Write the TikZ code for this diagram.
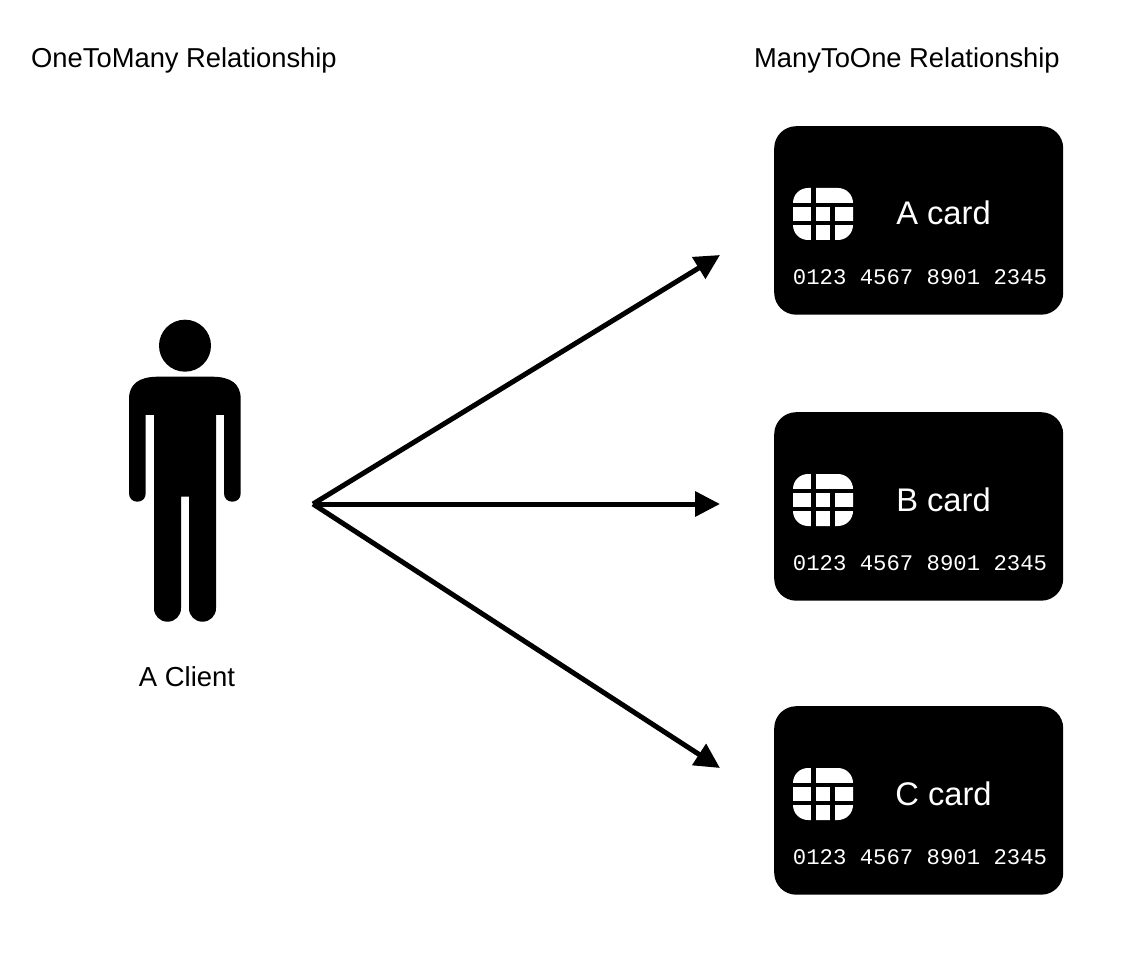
\documentclass[tikz,border=0pt]{standalone}
\usepackage{fontspec}
\setmainfont{Liberation Sans}
\newfontfamily\cardmono{Liberation Mono}
\usetikzlibrary{arrows.meta}
\tikzset{
  titletext/.style={inner sep=0pt,anchor=base west,font=\fontsize{27.35}{32}\selectfont},
  clienttext/.style={inner sep=0pt,anchor=base,font=\fontsize{27.5}{32}\selectfont},
  cardbox/.style={fill=black,draw=none,rounded corners=22pt,minimum width=289pt,minimum height=188.5pt,inner sep=0pt,anchor=north west},
  cardlabel/.style={inner sep=0pt,anchor=base,text=white,font=\fontsize{32.7}{38}\selectfont},
  cardnumber/.style={inner sep=0pt,anchor=base,text=white,font=\cardmono\fontsize{22.3}{26}\selectfont},
  relarrow/.style={line width=5pt,-{Triangle[length=25pt,width=24.5pt]}},
}
\newcommand{\creditcard}[3]{%
  \begin{scope}[shift={(774,#1)}]
    \node[cardbox] (card#2) at (0,0) {};
    \fill[white,rounded corners=15pt] (19,62) rectangle (79,114);
    \fill[black] (37,60) rectangle (41.5,116);
    \fill[black] (17,77) rectangle (81,81.3);
    \fill[black] (17,94.7) rectangle (81,98.7);
    \fill[black] (56,79) rectangle (61,116);
    \node[cardlabel] (label#2) at (169.5,99) {#3};
    \node[cardnumber] (number#2) at (146,158.7) {0123 4567 8901 2345};
  \end{scope}}
\begin{document}
\begin{tikzpicture}[x=1pt,y=-1pt]
\useasboundingbox (0,0) rectangle (1128,968);
\node[titletext] (titleleft) at (31,67.5) {OneToMany Relationship};
\node[titletext] (titleright) at (754,67.5) {ManyToOne Relationship};
\creditcard{126}{a}{A card}
\creditcard{412}{b}{B card}
\creditcard{706}{c}{C card}
% person
\fill[black] (185,345.7) circle[radius=26];
\fill[black] (154,415) -- (145.7,415) -- (145.7,493.4)
  .. controls (145.7,498.5) and (142,501.7) .. (137.35,501.7)
  .. controls (132.7,501.7) and (129,498.5) .. (129,493.4)
  -- (129,399) .. controls (129,384) and (139,376.7) .. (158,376.7)
  -- (212,376.7) .. controls (231,376.7) and (240.7,384) .. (240.7,399)
  -- (240.7,493.4)
  .. controls (240.7,498.5) and (237,501.7) .. (232.35,501.7)
  .. controls (227.7,501.7) and (224,498.5) .. (224,493.4)
  -- (224,415) -- (216,415) -- (216,608.2)
  .. controls (216,616) and (210,621.7) .. (202.5,621.7)
  .. controls (195,621.7) and (189,616) .. (189,608.2)
  -- (189,496.7) -- (181,496.7) -- (181,608.2)
  .. controls (181,616) and (175,621.7) .. (167.5,621.7)
  .. controls (160,621.7) and (154,616) .. (154,608.2)
  -- cycle;
\node[clienttext] (client) at (187,686) {A Client};
% connectors
\coordinate (origin) at (313,504);
\coordinate (enda) at (720,255);
\coordinate (endb) at (720,504);
\coordinate (endc) at (720,768);
\draw[relarrow] (origin) -- (enda);
\draw[relarrow] (origin) -- (endb);
\draw[relarrow] (origin) -- (endc);
\end{tikzpicture}
\end{document}
